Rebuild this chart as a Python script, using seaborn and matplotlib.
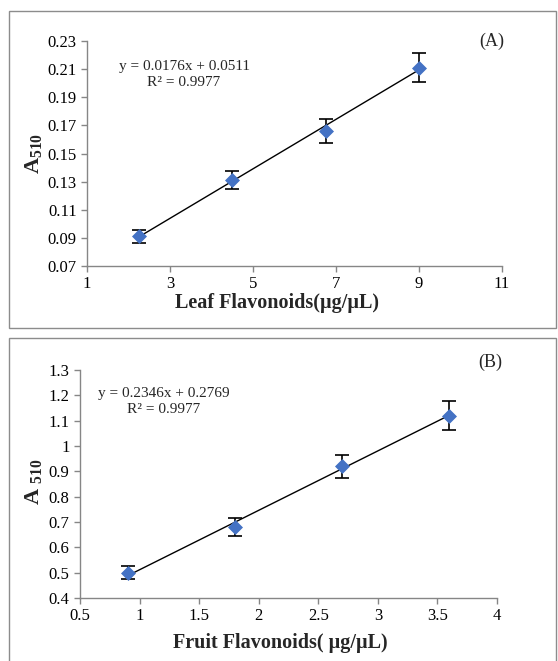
import matplotlib
matplotlib.use("Agg")
import matplotlib.pyplot as plt
import numpy as np
import pandas as pd
import seaborn as sns
from matplotlib.patches import Rectangle

# Panel A: leaf flavonoids
leaf_x = [2.25, 4.5, 6.75, 9.0]
leaf_y = [0.091, 0.131, 0.166, 0.211]
leaf_err = [0.0045, 0.0065, 0.0083, 0.0104]
leaf_fit = (0.0176, 0.0511)
leaf_eq = "y = 0.0176x + 0.0511\nR² = 0.9977"
leaf_xticks = [1, 3, 5, 7, 9, 11]
leaf_yticks = [0.07, 0.09, 0.11, 0.13, 0.15, 0.17, 0.19, 0.21, 0.23]

# Panel B: fruit flavonoids
fruit_x = [0.9, 1.8, 2.7, 3.6]
fruit_y = [0.50, 0.68, 0.92, 1.12]
fruit_err = [0.025, 0.034, 0.046, 0.056]
fruit_fit = (0.2346, 0.2769)
fruit_eq = "y = 0.2346x + 0.2769\nR² = 0.9977"
fruit_xticks = [0.5, 1, 1.5, 2, 2.5, 3, 3.5, 4]
fruit_yticks = [0.4, 0.5, 0.6, 0.7, 0.8, 0.9, 1, 1.1, 1.2, 1.3]

sns.set_theme(style="white")
plt.rcParams["font.family"] = ["Liberation Serif", "DejaVu Serif"]
plt.rcParams["mathtext.fontset"] = "custom"
plt.rcParams["mathtext.rm"] = "Liberation Serif"
plt.rcParams["mathtext.bf"] = "Liberation Serif:bold"

W, H = 558, 661
fig = plt.figure(figsize=(W / 100, H / 100), dpi=100)

# outer frames
fig.patches.append(Rectangle((9 / W, 1 - 328 / H), 547 / W, 317 / H, transform=fig.transFigure,
                             fill=False, edgecolor="#8c8c8c", linewidth=1))
fig.patches.append(Rectangle((9 / W, 1 - 662 / H), 547 / W, 324 / H, transform=fig.transFigure,
                             fill=False, edgecolor="#8c8c8c", linewidth=1))

blue = "#4472C4"
axis_gray = "#868686"


def draw_panel(ax, xs, ys, errs, fit, eq, xticks, yticks, fmt, eq_pos):
    df = pd.DataFrame({"x": xs, "y": ys})
    slope, icpt = fit
    fit_df = pd.DataFrame({"x": [xs[0], xs[-1]]})
    fit_df["y"] = slope * fit_df["x"] + icpt
    sns.lineplot(data=fit_df, x="x", y="y", ax=ax, color="black", linewidth=1.0, zorder=2)
    ax.errorbar(xs, ys, yerr=errs, fmt="none", ecolor="black", elinewidth=1.2,
                capsize=5, capthick=1.2, zorder=3)
    sns.scatterplot(data=df, x="x", y="y", ax=ax, marker="D", s=50, color=blue,
                    edgecolor=blue, zorder=4)
    ax.set_xlim(xticks[0], xticks[-1])
    ax.set_ylim(yticks[0], yticks[-1])
    ax.set_xticks(xticks)
    ax.set_yticks(yticks)
    ax.set_xticklabels([f"{t:g}" for t in xticks])
    ax.set_yticklabels([fmt(t) for t in yticks])
    for s in ["top", "right"]:
        ax.spines[s].set_visible(False)
    for s in ["left", "bottom"]:
        ax.spines[s].set_color(axis_gray)
        ax.spines[s].set_linewidth(1.0)
    ax.tick_params(axis="both", direction="out", length=4, width=1, color=axis_gray,
                   labelsize=12, labelcolor="black", left=True, bottom=True)
    ax.set_xlabel("")
    ax.set_ylabel("")
    ax.text(eq_pos[0], eq_pos[1], eq, transform=ax.transAxes, ha="center", va="top",
            fontsize=11, linespacing=1.3)


ax_a = fig.add_axes([87 / W, 1 - 266 / H, 415 / W, 225 / H])
draw_panel(ax_a, leaf_x, leaf_y, leaf_err, leaf_fit, leaf_eq, leaf_xticks, leaf_yticks,
           lambda t: f"{t:.2f}", (0.234, 0.915))

ax_b = fig.add_axes([80 / W, 1 - 598 / H, 417 / W, 228 / H])
draw_panel(ax_b, fruit_x, fruit_y, fruit_err, fruit_fit, fruit_eq, fruit_xticks, fruit_yticks,
           lambda t: f"{t:g}", (0.201, 0.925))

# titles / labels
fig.text(492 / W, 1 - 41 / H, "(A)", ha="center", va="center", fontsize=13)
fig.text(490 / W, 1 - 362 / H, "(B)", ha="center", va="center", fontsize=13)
fig.text(277 / W, 1 - 303 / H, "Leaf Flavonoids(µg/µL)", ha="center", va="center",
         fontsize=14.5, fontweight="bold")
fig.text(280 / W, 1 - 643 / H, "Fruit Flavonoids( µg/µL)", ha="center", va="center",
         fontsize=14.5, fontweight="bold")
fig.text(33 / W, 1 - 153 / H, r"$\mathbf{A_{510}}$", ha="center", va="center",
         fontsize=16, rotation=90)
fig.text(33 / W, 1 - 482 / H, r"$\mathbf{A}$ $\mathbf{_{510}}$", ha="center", va="center",
         fontsize=16, rotation=90)

fig.savefig("out.png", dpi=100)
